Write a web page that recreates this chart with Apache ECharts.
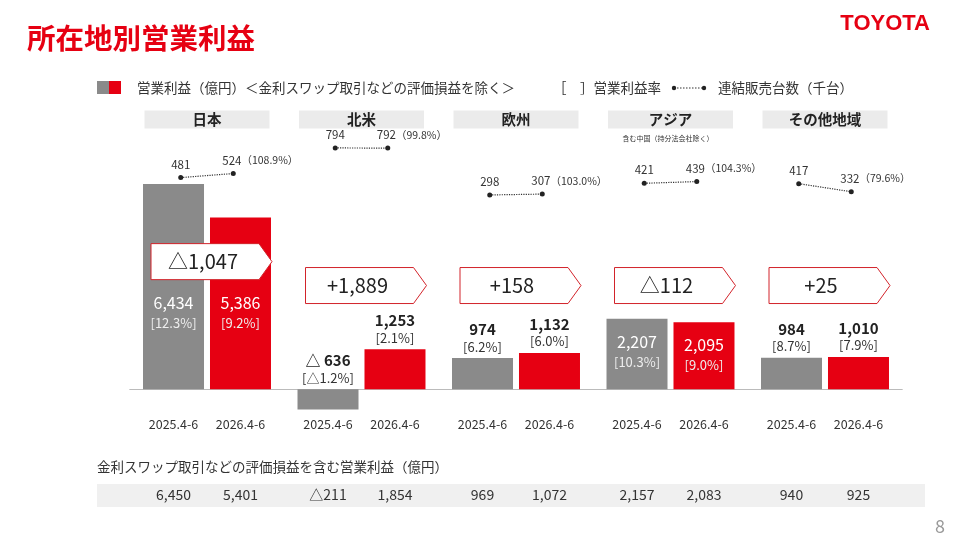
<!DOCTYPE html>
<html>
<head>
<meta charset="utf-8">
<script src="https://cdn.jsdelivr.net/npm/echarts@6/dist/echarts.min.js"></script>
<style>html,body{margin:0;padding:0;background:#fff;}#c{width:960px;height:540px;}</style>
</head>
<body>
<div id="c"></div>
<script>
// ---- data ----
const regions = ['日本', '北米', '欧州', 'アジア', 'その他地域'];
const periods = ['2025.4-6', '2026.4-6'];
const profitPrev = [6434, -636, 974, 2207, 984];
const profitCurr = [5386, 1253, 1132, 2095, 1010];
const marginPrev = [12.3, -1.2, 6.2, 10.3, 8.7];
const marginCurr = [9.2, 2.1, 6.0, 9.0, 7.9];
const changes = [-1047, 1889, 158, -112, 25];
const volPrev = [481, 794, 298, 421, 417];
const volCurr = [524, 792, 307, 439, 332];
const volRatio = [108.9, 99.8, 103.0, 104.3, 79.6];
const inclPrev = [6450, -211, 969, 2157, 940];
const inclCurr = [5401, 1854, 1072, 2083, 925];

// ---- layout / style ----
const FONT = '"Noto Sans CJK JP", "Noto Sans", sans-serif';
const GRAY = '#8a8a8a', RED = '#e60012';
const labelMode = ['insideBottom', 'top', 'top', 'insideTop', 'top'];
const boxLevel = [4000, 3250, 3250, 3250, 3250];
const G = { left: 129.75, right: 57.75 };

function num(v) { return Math.abs(v).toLocaleString('en-US'); }
function fmtVal(v) { return v < 0 ? '△ ' + num(v) : num(v); }
function fmtPct(v) { return '[' + (v < 0 ? '△' : '') + Math.abs(v).toFixed(1) + '%]'; }
function fmtTbl(v) { return v < 0 ? '△' + num(v) : num(v); }
function fmtChg(v) { return (v < 0 ? '△' : '+') + num(v); }

function barLabel(i, v, m) {
  const mode = labelMode[i];
  const inside = mode !== 'top';
  return {
    show: true,
    position: mode,
    distance: mode === 'insideBottom' ? 56 : (mode === 'insideTop' ? 13 : 3),
    formatter: inside ? '{w|' + fmtVal(v) + '}\n{wp|' + fmtPct(m) + '}' : '{d|' + fmtVal(v) + '}\n{dp|' + fmtPct(m) + '}',
    rich: {
      w: { fontSize: 16, color: '#fff', lineHeight: 20, fontFamily: FONT },
      wp: { fontSize: 13, color: '#eeeeee', lineHeight: 20, fontFamily: FONT },
      d: { fontSize: 15, fontWeight: 'bold', color: '#222', lineHeight: 17, fontFamily: FONT },
      dp: { fontSize: 13, color: '#333', lineHeight: 17, fontFamily: FONT }
    }
  };
}

const volSeries = regions.map((r, i) => ({
  type: 'line',
  xAxisIndex: 2, yAxisIndex: 1,
  data: [
    { value: [i - 0.17, volPrev[i]], label: { show: true, position: 'top', distance: 5, formatter: String(volPrev[i]), fontSize: 11.5, color: '#333', fontFamily: FONT } },
    { value: [i + 0.17, volCurr[i]], label: { show: true, position: 'top', distance: 5, align: 'left', offset: [-11, 0],
      formatter: '{v|' + volCurr[i] + '}{p|（' + volRatio[i].toFixed(1) + '%）}',
      rich: { v: { fontSize: 11.5, color: '#333', fontFamily: FONT }, p: { fontSize: 10.5, color: '#333', fontFamily: FONT } } } }
  ],
  symbol: 'circle', symbolSize: 5,
  itemStyle: { color: '#222' },
  lineStyle: { type: 'dotted', width: 1.2, color: '#333' },
  silent: true, animation: false
}));

const option = {
  animation: false,
  textStyle: { fontFamily: FONT },
  grid: [
    { left: G.left, right: G.right, top: 166, height: 255 },
    { left: G.left, right: G.right, top: 128.4, height: 94.8 }
  ],
  xAxis: [
    { type: 'category', gridIndex: 0, data: regions,
      axisLine: { onZero: true, lineStyle: { color: '#bbbbbb', width: 1 } }, axisTick: { show: false },
      axisLabel: { interval: 0, margin: -3,
        formatter: () => '{a|' + periods[0] + '}{b|' + periods[1] + '}',
        rich: { a: { width: 67, align: 'center', fontSize: 12.5, color: '#333', fontFamily: FONT },
                b: { width: 67, align: 'center', fontSize: 12.5, color: '#333', fontFamily: FONT } } } },
    { type: 'category', gridIndex: 0, data: regions, position: 'bottom',
      axisLine: { show: false, onZero: false }, axisTick: { show: false },
      axisLabel: { interval: 0, margin: 67,
        formatter: (v, idx) => '{a|' + fmtTbl(inclPrev[idx]) + '}{b|' + fmtTbl(inclCurr[idx]) + '}',
        rich: { a: { width: 67, align: 'center', fontSize: 14, color: '#333', fontFamily: FONT },
                b: { width: 67, align: 'center', fontSize: 14, color: '#333', fontFamily: FONT } } } },
    { type: 'value', gridIndex: 1, min: -0.5, max: 4.5, show: false },
    { type: 'category', gridIndex: 1, data: regions, position: 'top',
      axisLine: { show: false }, axisTick: { show: false },
      axisLabel: { interval: 0, margin: 0, fontSize: 14.5, fontWeight: 'bold', color: '#222',
        backgroundColor: '#ebebeb', width: 125, height: 18, lineHeight: 18, align: 'center', verticalAlign: 'bottom' } }
  ],
  yAxis: [
    { type: 'value', gridIndex: 0, min: -1000, max: 7000, show: false, splitLine: { show: false } },
    { type: 'value', gridIndex: 1, min: 0, max: 1000, show: false, splitLine: { show: false } }
  ],
  series: [
    { type: 'bar', name: periods[0], xAxisIndex: 0, yAxisIndex: 0, barWidth: 61, barGap: '9.8%',
      itemStyle: { color: GRAY },
      data: profitPrev.map((v, i) => ({ value: v, label: barLabel(i, v, marginPrev[i]) })) },
    { type: 'bar', name: periods[1], xAxisIndex: 0, yAxisIndex: 0, barWidth: 61, barGap: '9.8%',
      itemStyle: { color: RED },
      data: profitCurr.map((v, i) => ({ value: v, label: barLabel(i, v, marginCurr[i]) })) },
    { type: 'custom', xAxisIndex: 0, yAxisIndex: 0, z: 10, silent: true,
      data: changes.map((c, i) => [i, c]),
      renderItem: function (params, api) {
        const i = api.value(0);
        const c = api.coord([i, boxLevel[i]]);
        const x0 = c[0] - 56, x1 = c[0] + 52, x2 = c[0] + 65, y0 = c[1] - 18, y1 = c[1] + 18;
        return { type: 'group', children: [
          { type: 'polygon', shape: { points: [[x0, y0], [x1, y0], [x2, c[1]], [x1, y1], [x0, y1]] },
            style: { fill: '#fff', stroke: '#d2232a', lineWidth: 1 } },
          { type: 'text', style: { text: fmtChg(changes[i]), x: (x0 + x1) / 2 - 2, y: c[1], align: 'center', verticalAlign: 'middle',
            fontSize: 20, fill: '#222', fontFamily: FONT } }
        ] };
      } },
    ...volSeries
  ],
  graphic: [
    { type: 'text', left: 27, top: 24, style: { text: '所在地別営業利益', fontSize: 28.5, fontWeight: 'bold', fill: RED, fontFamily: FONT } },
    { type: 'text', right: 30, top: 13, style: { text: 'TOYOTA', fontSize: 22, fontWeight: 'bold', fill: RED, fontFamily: '"Liberation Sans", Arial, sans-serif' } },
    { type: 'rect', shape: { x: 97, y: 81, width: 12, height: 13 }, style: { fill: GRAY } },
    { type: 'rect', shape: { x: 109, y: 81, width: 12, height: 13 }, style: { fill: RED } },
    { type: 'text', x: 137, y: 88, style: { text: '営業利益（億円）＜金利スワップ取引などの評価損益を除く＞', fontSize: 13.5, fill: '#333', verticalAlign: 'middle', fontFamily: FONT } },
    { type: 'text', x: 553, y: 88, style: { text: '［　］営業利益率', fontSize: 13.5, fill: '#333', verticalAlign: 'middle', fontFamily: FONT } },
    { type: 'line', shape: { x1: 674, y1: 88, x2: 704, y2: 88 }, style: { stroke: '#333', lineWidth: 1.2, lineDash: [1.5, 1.5] } },
    { type: 'circle', shape: { cx: 674, cy: 88, r: 2.2 }, style: { fill: '#222' } },
    { type: 'circle', shape: { cx: 704, cy: 88, r: 2.2 }, style: { fill: '#222' } },
    { type: 'text', x: 718, y: 88, style: { text: '連結販売台数（千台）', fontSize: 13.5, fill: '#333', verticalAlign: 'middle', fontFamily: FONT } },
    { type: 'text', x: 668, y: 138, style: { text: '含む中国（持分法会社除く）', fontSize: 7, fill: '#333', align: 'center', verticalAlign: 'middle', fontFamily: FONT } },
    { type: 'text', x: 97, y: 467, style: { text: '金利スワップ取引などの評価損益を含む営業利益（億円）', fontSize: 13.5, fill: '#333', verticalAlign: 'middle', fontFamily: FONT } },
    { type: 'rect', z: -10, shape: { x: 97, y: 484, width: 828, height: 23 }, style: { fill: '#f0f0f0' } },
    { type: 'text', x: 940, y: 526, style: { text: '8', fontSize: 18, fill: '#999', align: 'center', verticalAlign: 'middle', fontFamily: FONT } }
  ]
};

const chart = echarts.init(document.getElementById('c'), null, { renderer: 'canvas' });
chart.setOption(option);
</script>
</body>
</html>
